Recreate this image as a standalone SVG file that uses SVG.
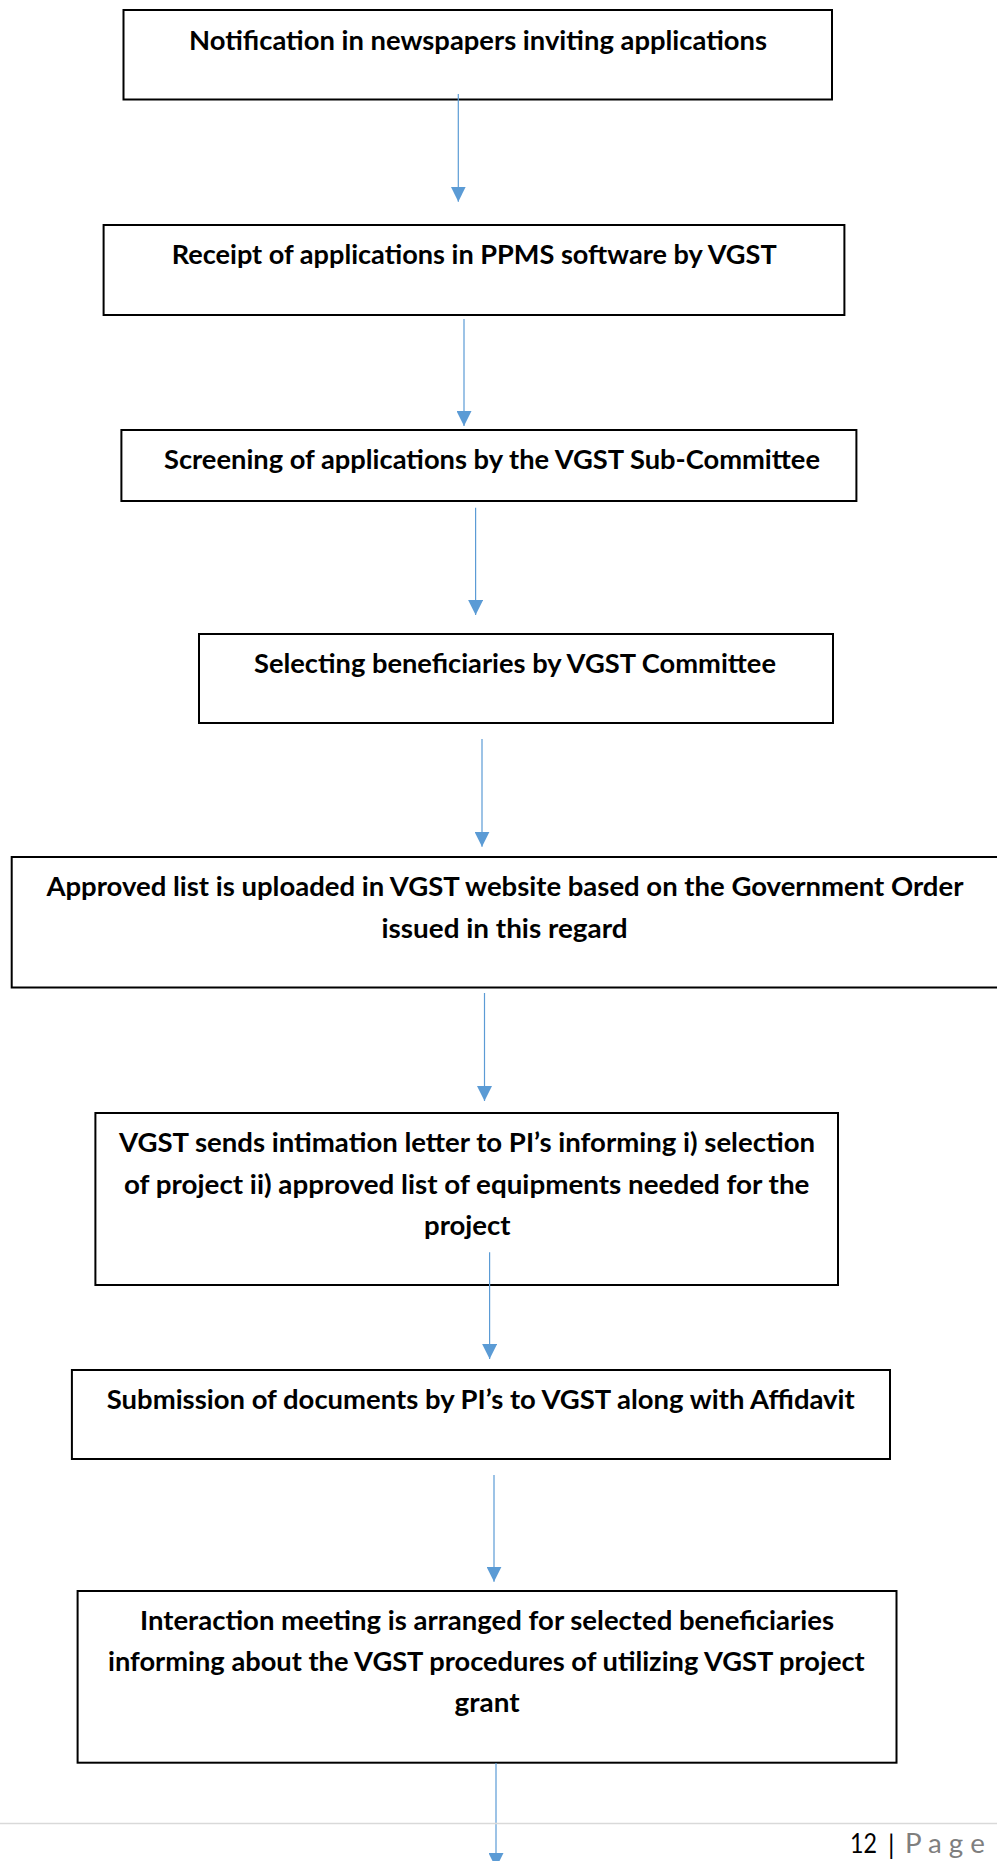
<svg xmlns="http://www.w3.org/2000/svg" width="997" height="1861" viewBox="0 0 997 1861">
<style>
.box{fill:#fff;stroke:#000;stroke-width:2}
.t{font-family:Lato,"Open Sans","Liberation Sans",sans-serif;font-weight:700;font-size:26px;fill:#000}
.c{stroke:#5B9BD5;stroke-width:1.2;fill:none;marker-end:url(#ah)}
.ft{font-family:Lato,"Open Sans","Liberation Sans",sans-serif;font-size:26px}
</style>
<defs>
<marker id="ah" markerUnits="userSpaceOnUse" markerWidth="15" markerHeight="15" viewBox="0 0 15 15" refX="15" refY="7.5" orient="auto">
<path d="M0,0 L15,7.5 L0,15 z" fill="#5B9BD5"/>
</marker>
</defs>
<rect width="997" height="1861" fill="#fff"/>
<g id="n1">
<rect class="box" x="123.5" y="10" width="708.5" height="89.5"/>
<text class="t" x="189" y="50" textLength="578" lengthAdjust="spacingAndGlyphs">Notification in newspapers inviting applications</text>
</g>
<g id="n2">
<rect class="box" x="103.6" y="225" width="740.8" height="90"/>
<text class="t" x="171.7" y="264" textLength="605" lengthAdjust="spacingAndGlyphs">Receipt of applications in PPMS software by VGST</text>
</g>
<g id="n3">
<rect class="box" x="121.4" y="430" width="735" height="71"/>
<text class="t" x="164" y="469" textLength="656" lengthAdjust="spacingAndGlyphs">Screening of applications by the VGST Sub-Committee</text>
</g>
<g id="n4">
<rect class="box" x="199" y="634" width="634" height="89"/>
<text class="t" x="254" y="673" textLength="522" lengthAdjust="spacingAndGlyphs">Selecting beneficiaries by VGST Committee</text>
</g>
<g id="n5">
<rect class="box" x="11.7" y="857" width="995" height="130.5"/>
<text class="t" x="46.4" y="896" textLength="917" lengthAdjust="spacingAndGlyphs">Approved list is uploaded in VGST website based on the Government Order</text>
<text class="t" x="381.5" y="937.5" textLength="246" lengthAdjust="spacingAndGlyphs">issued in this regard</text>
</g>
<g id="n6">
<rect class="box" x="95.4" y="1113" width="742.6" height="172"/>
<text class="t" x="119" y="1152" textLength="696" lengthAdjust="spacingAndGlyphs">VGST sends intimation letter to PI’s informing i) selection</text>
<text class="t" x="124" y="1193.5" textLength="685.4" lengthAdjust="spacingAndGlyphs">of project ii) approved list of equipments needed for the</text>
<text class="t" x="424" y="1235" textLength="86.6" lengthAdjust="spacingAndGlyphs">project</text>
</g>
<g id="n7">
<rect class="box" x="71.9" y="1370" width="818.1" height="89"/>
<text class="t" x="106.8" y="1408.5" textLength="748" lengthAdjust="spacingAndGlyphs">Submission of documents by PI’s to VGST along with Affidavit</text>
</g>
<g id="n8">
<rect class="box" x="77.6" y="1591" width="818.9" height="171.7"/>
<text class="t" x="140" y="1630" textLength="694" lengthAdjust="spacingAndGlyphs">Interaction meeting is arranged for selected beneficiaries</text>
<text class="t" x="108" y="1671" textLength="756.7" lengthAdjust="spacingAndGlyphs">informing about the VGST procedures of utilizing VGST project</text>
<text class="t" x="454.6" y="1712" textLength="65" lengthAdjust="spacingAndGlyphs">grant</text>
</g>
<g id="connectors">
<line class="c" x1="458.3" y1="94" x2="458.3" y2="201.7"/>
<line class="c" x1="464" y1="319" x2="464" y2="426"/>
<line class="c" x1="475.6" y1="507.7" x2="475.6" y2="615"/>
<line class="c" x1="482" y1="739" x2="482" y2="846.7"/>
<line class="c" x1="484.5" y1="993" x2="484.5" y2="1101"/>
<line class="c" x1="489.6" y1="1252.3" x2="489.6" y2="1359"/>
<line class="c" x1="494" y1="1475" x2="494" y2="1581.7"/>
<line class="c" x1="496" y1="1763" x2="496" y2="1868"/>
</g>
<g id="footer">
<line x1="0" y1="1823.5" x2="997" y2="1823.5" stroke="#d9d9d9" stroke-width="1.5"/>
<text class="ft" x="850" y="1853.3" fill="#000" textLength="27" lengthAdjust="spacingAndGlyphs">12</text>
<text class="ft" x="888" y="1854" fill="#000">|</text>
<text class="ft" x="905" y="1853.3" fill="#7f7f7f" textLength="80" lengthAdjust="spacingAndGlyphs">P a g e</text>
</g>
</svg>
